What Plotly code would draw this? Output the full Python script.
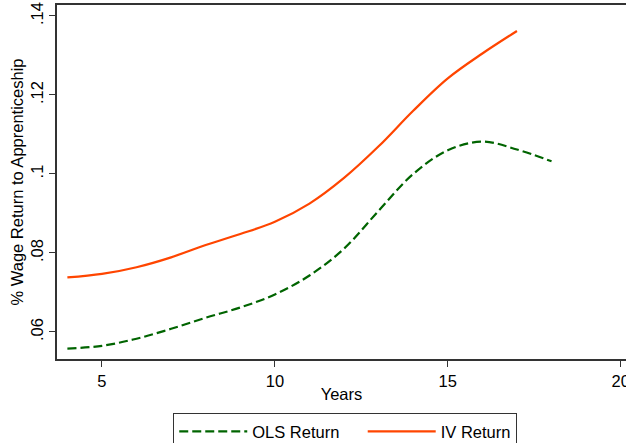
import plotly.graph_objects as go

years = [4, 5, 6, 7, 8, 9, 10, 11, 12, 13, 14, 15, 16, 17, 18]
ols_return = [0.0558, 0.0565, 0.0583, 0.0608, 0.0636, 0.0662, 0.0695, 0.0743,
              0.0811, 0.0907, 0.1000, 0.1060, 0.1082, 0.1062, 0.1032]
iv_years = [4, 5, 6, 7, 8, 9, 10, 11, 12, 13, 14, 15, 16, 17]
iv_return = [0.0738, 0.0747, 0.0764, 0.0789, 0.0820, 0.0848, 0.0879, 0.0925,
             0.0990, 0.1070, 0.1160, 0.1242, 0.1305, 0.1362]

y_tickvals = [0.06, 0.08, 0.10, 0.12, 0.14]
y_ticktext = [".06", ".08", ".1", ".12", ".14"]
x_tickvals = [5, 10, 15, 20]

FONT = "Liberation Sans"
FS = 16.5
AXIS_COLOR = "#333333"
NBSP = "\u00a0"

fig = go.Figure()
fig.add_trace(go.Scatter(
    x=years, y=ols_return, mode="lines", name="OLS Return" + NBSP * 4,
    line=dict(color="#006400", width=2.2, dash="9px,4px", shape="spline", smoothing=1.0),
))
fig.add_trace(go.Scatter(
    x=iv_years, y=iv_return, mode="lines", name="IV Return",
    line=dict(color="#ff4500", width=2.2, shape="spline", smoothing=1.0),
))

fig.update_layout(
    template="none",
    width=626, height=443,
    margin=dict(l=57, r=0, t=5, b=84, autoexpand=False),
    paper_bgcolor="white", plot_bgcolor="white",
    font=dict(family=FONT, size=FS, color="#000000"),
    showlegend=True,
    legend=dict(
        orientation="h", x=0.2043, y=-0.1528, xanchor="left", yanchor="top",
        bordercolor=AXIS_COLOR, borderwidth=1, bgcolor="white",
        font=dict(family=FONT, size=FS, color="#000000"),
        itemwidth=68,
    ),
    xaxis=dict(
        range=[3.70, 20.153], tickvals=x_tickvals, ticks="outside", ticklen=6,
        tickwidth=1, tickcolor=AXIS_COLOR, showline=True, linecolor=AXIS_COLOR,
        linewidth=1.5, mirror=True, showgrid=False, zeroline=False,
        automargin=False, ticklabeloverflow="allow",
        title=dict(text="Years", standoff=0, font=dict(family=FONT, size=FS)),
    ),
    yaxis=dict(
        range=[0.05316, 0.14278], tickvals=y_tickvals, ticktext=y_ticktext,
        tickangle=-90, ticks="outside", ticklen=6, tickwidth=1,
        tickcolor=AXIS_COLOR, showline=True, linecolor=AXIS_COLOR, linewidth=1.5,
        showgrid=False, zeroline=False, automargin=False,
        title=dict(text="% Wage Return to Apprenticeship", standoff=0,
                   font=dict(family=FONT, size=FS)),
    ),
)

fig.write_html("out.html", config={"displayModeBar": False},
               post_script="document.body.style.margin='0';document.body.style.overflow='hidden';")
